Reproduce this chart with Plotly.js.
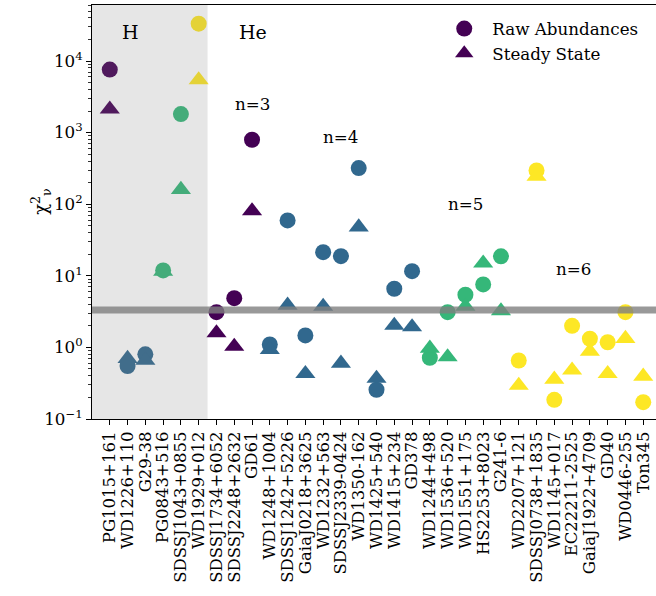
<!DOCTYPE html>
<html>
<head>
<meta charset="utf-8">
<script src="https://cdn.plot.ly/plotly-3.0.1.min.js"></script>
<style>
html,body{margin:0;padding:0;overflow:hidden;background:#fff;}
#chart{width:680px;height:596px;}
</style>
</head>
<body>
<div id="chart"></div>
<script>
// ---- data ----
var stars = ["PG1015+161","WD1226+110","G29-38","PG0843+516","SDSSJ1043+0855","WD1929+012",
  "SDSSJ1734+6052","SDSSJ2248+2632","GD61",
  "WD1248+1004","SDSSJ1242+5226","GaiaJ0218+3625","WD1232+563","SDSSJ2339-0424","WD1350-162","WD1425+540","WD1415+234","GD378",
  "WD1244+498","WD1536+520","WD1551+175","HS2253+8023","G241-6",
  "WD2207+121","SDSSJ0738+1835","WD1145+017","EC22211-2525","GaiaJ1922+4709","GD40","WD0446-255","Ton345"];
var nElements = [3,4,4,5,5,6, 3,3,3, 4,4,4,4,4,4,4,4,4, 5,5,5,5,5, 6,6,6,6,6,6,6,6];
var rawChi2 = [7600,0.55,0.80,11.9,1815,33300, 3.11,4.88,796,
  1.10,59.4,1.47,21.4,18.8,320,0.256,6.6,11.6,
  0.717,3.11,5.44,7.59,18.7,
  0.657,297,0.185,2.0,1.32,1.18,3.11,0.172];
var steadyChi2 = [2130,0.70,0.66,11.5,160,5450, 1.59,1.03,80.7,
  0.935,3.88,0.43,3.73,0.60,47.9,0.368,2.03,1.93,
  0.97,0.735,3.73,15.0,3.23,
  0.294,245,0.359,0.48,0.883,0.43,1.33,0.395];
var nLabels = ["n=3","n=4","n=5","n=6"];
var thresholdChi2 = 3.33;
var hydrogenCount = 6;

// ---- styling ----
var viridis = {3:"#440154",4:"#31688e",5:"#35b779",6:"#fde725"};
var colors = nElements.map(function(n){return viridis[n];});
var FONT = "DejaVu Serif, serif";

var traceRaw = {
  x: stars, y: rawChi2, type: "scatter", mode: "markers", name: "Raw Abundances",
  marker: {symbol: "circle", size: 16, color: colors, line: {width: 0}},
  cliponaxis: false
};
var traceSS = {
  x: stars, y: steadyChi2, type: "scatter", mode: "markers", name: "Steady State",
  marker: {symbol: "triangle-up", size: 17.5, color: colors, line: {width: 0}},
  cliponaxis: false
};

var decades = [0.1,1,10,100,1000,10000];
var decadeText = ["10<sup>\u22121</sup>","10<sup>0</sup>","10<sup>1</sup>","10<sup>2</sup>","10<sup>3</sup>","10<sup>4</sup>"];
var minorVals = [];
for (var e = -1; e <= 4; e++) { for (var m = 2; m <= 9; m++) { minorVals.push(m*Math.pow(10,e)); } }

var layout = {
  width: 680, height: 596,
  margin: {l: 92, r: 19, t: 5, b: 177},
  paper_bgcolor: "#fff", plot_bgcolor: "#fff",
  font: {family: FONT, size: 16.7, color: "#000"},
  showlegend: true,
  legend: {x: 0.605, y: 0.985, xanchor: "left", yanchor: "top", bgcolor: "rgba(0,0,0,0)",
    font: {family: FONT, size: 16.7}, itemwidth: 46, tracegroupgap: 0},
  xaxis: {
    type: "category", range: [-1, 31], tickangle: -90,
    tickmode: "linear", tick0: 0, dtick: 1,
    ticks: "outside", ticklen: 5, tickwidth: 1, tickcolor: "#000",
    showline: true, linecolor: "#000", linewidth: 1, mirror: true,
    showgrid: false, zeroline: false,
    tickfont: {family: FONT, size: 16.5, color: "#000"}
  },
  yaxis: {
    type: "log", range: [-1, 4.783],
    tickmode: "array", tickvals: decades, ticktext: decadeText,
    ticks: "outside", ticklen: 5, tickwidth: 1, tickcolor: "#000",
    minor: {tickmode: "array", tickvals: minorVals, ticks: "outside", ticklen: 2.8, tickwidth: 0.8, tickcolor: "#000", showgrid: false},
    showline: true, linecolor: "#000", linewidth: 1, mirror: true,
    showgrid: false, zeroline: false,
    tickfont: {family: FONT, size: 16.7, color: "#000"}
  },
  shapes: [
    {type: "rect", xref: "x", yref: "paper", x0: -1, x1: hydrogenCount - 0.5, y0: 0, y1: 1,
     fillcolor: "rgba(128,128,128,0.2)", line: {width: 0}, layer: "above"},
    {type: "line", xref: "paper", yref: "y", x0: 0, x1: 1, y0: thresholdChi2, y1: thresholdChi2,
     line: {color: "rgba(128,128,128,0.8)", width: 7}, layer: "above"}
  ],
  annotations: [
    {xref: "paper", yref: "paper", x: -0.091, y: 0.525, xanchor: "center", yanchor: "middle",
     text: "\u03c7<sup>2</sup><sub>\u03bd</sub>", textangle: -90, showarrow: false, font: {family: FONT, size: 18}},
    {xref: "x", yref: "y", x: 1.16, y: 4.40, text: "H", showarrow: false, font: {family: FONT, size: 19}},
    {xref: "x", yref: "y", x: 8.07, y: 4.40, text: "He", showarrow: false, font: {family: FONT, size: 19}},
    {xref: "x", yref: "y", x: 8.02, y: 3.395, text: nLabels[0], showarrow: false, font: {family: FONT, size: 16.7}},
    {xref: "x", yref: "y", x: 13.0, y: 2.934, text: nLabels[1], showarrow: false, font: {family: FONT, size: 16.7}},
    {xref: "x", yref: "y", x: 19.98, y: 2.0, text: nLabels[2], showarrow: false, font: {family: FONT, size: 16.7}},
    {xref: "x", yref: "y", x: 26.1, y: 1.089, text: nLabels[3], showarrow: false, font: {family: FONT, size: 16.7}}
  ]
};

Plotly.newPlot("chart", [traceRaw, traceSS], layout, {displayModeBar: false, staticPlot: true});
</script>
</body>
</html>
